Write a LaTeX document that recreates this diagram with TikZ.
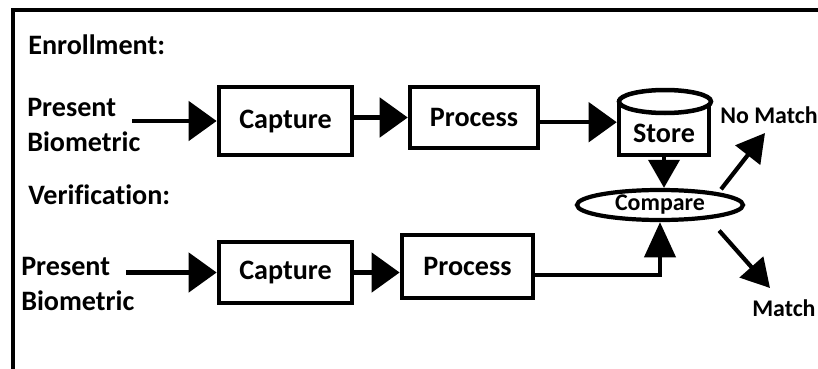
\documentclass[tikz,border=0pt]{standalone}
\usepackage{fontspec}
\setmainfont{Carlito}[Ligatures=NoCommon]
\usetikzlibrary{arrows.meta,shapes.geometric}

\begin{document}
\begin{tikzpicture}
    [
      x=0.025cm,y=-0.025cm,
      font=\fontsize{20pt}{25pt}\selectfont\bfseries,
      label/.style={inner sep=0pt,anchor=west,align=left},
      small/.style={font=\fontsize{17pt}{20pt}\selectfont\bfseries},
      stage/.style={draw,rectangle,line width=3.2pt,inner sep=0pt},
      link/.style={-{Triangle[length=20pt,width=28pt]},line width=3pt},
      thinlink/.style={-{Triangle[length=20pt,width=22pt]},line width=3pt}
    ]

    \useasboundingbox (0,0) rectangle (818,369);
    \draw [line width=3.4pt] (13,369) -- (13,10) -- (818,10);

    \node at (28,45) [label] (enroll) {Enrollment:};
    \node at (27,125) [label] (present1) {Present\\Biometric};
    \node at (285.5,121) [stage,minimum width=3.33cm,minimum height=1.7cm] (capture1) {Capture};
    \node at (474,117.5) [stage,minimum width=3.2cm,minimum height=1.53cm] (process1) {Process};
    \node at (664,128) [stage,minimum width=2.25cm,minimum height=1.35cm] (store) {};
    \draw [line width=3.2pt,fill=white] (665,101.5) ellipse [x radius=46, y radius=11.5];
    \node at (664,133) (storetext) {Store};

    \node at (28,195) [label] (verify) {Verification:};
    \node at (21,284) [label] (present2) {Present\\Biometric};
    \node at (285.5,272.5) [stage,minimum width=3.33cm,minimum height=1.53cm] (capture2) {Capture};
    \node at (467.5,266.5) [stage,minimum width=3.28cm,minimum height=1.58cm] (process2) {Process};

    \node at (660,205) [draw,ellipse,line width=3pt,inner sep=0pt,minimum width=4.15cm,
      minimum height=0.75cm,small] (compare) {Compare};
    \node at (720,115) [label,small] (nomatch) {No Match};
    \node at (752,308) [label,small] (match) {Match};
    \coordinate (nomatchtip) at (765,133);
    \coordinate (matchtip) at (770,288);

    \draw [link,shorten <=-6pt] (capture1.west -| present1.east) -- (capture1.west);
    \draw [link] (capture1.east |- process1.west) -- (process1.west);
    \draw [link] (process1.east |- store.173) -- (store.173);
    \draw [thinlink] (store.south) -- (store.south |- compare.north);

    \draw [link,shorten <=-6pt] (capture2.west -| present2.east) -- (capture2.west);
    \draw [link] (capture2.east) -- (capture2.east -| process2.west);
    \draw [thinlink,-{Triangle[length=25pt,width=22pt]}] ([yshift=-6pt]process2.east) -| (compare.south);

    \draw [thinlink,shorten <=3pt] (compare.12) -- (nomatchtip);
    \draw [thinlink,shorten <=11pt] (compare.-16) -- (matchtip);
  \end{tikzpicture}
\end{document}
